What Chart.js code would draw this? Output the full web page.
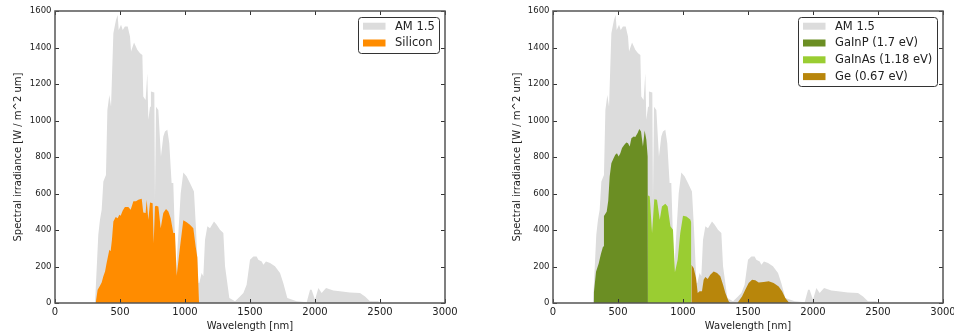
<!DOCTYPE html>
<html><head><meta charset="utf-8">
<script src="https://cdn.jsdelivr.net/npm/chart.js@4.4.0/dist/chart.umd.min.js"></script>
<style>
html,body{margin:0;padding:0;background:#fff;width:954px;height:334px;overflow:hidden}
.box{position:absolute;top:0;height:334px}
#b1{left:0;width:477px}
#b2{left:477px;width:477px}
</style></head><body>
<div class="box" id="b1"><canvas id="c1"></canvas></div>
<div class="box" id="b2"><canvas id="c2"></canvas></div>
<script>
// ---- data ----
const X_TICKS = [0, 500, 1000, 1500, 2000, 2500, 3000];
const Y_TICKS = [0, 200, 400, 600, 800, 1000, 1200, 1400, 1600];

const AM_NM  = [300,308,333,346,359,372,392,403,418,431,449,469,482,490,508,521,538,559,577,585,608,633,654,672,679,697,710,718,731,738,764,769,777,795,815,833,846,864,879,897,910,931,949,967,987,1013,1038,1069,1085,1103,1110,1128,1141,1154,1172,1192,1223,1244,1269,1295,1308,1341,1385,1423,1449,1474,1500,1526,1551,1564,1590,1603,1623,1654,1692,1731,1756,1787,1859,1936,1962,1974,2000,2026,2051,2085,2141,2192,2269,2346,2385,2423,2487,2500];
const AM_VAL = [0,0,374,456,511,666,702,1058,1140,1076,1478,1551,1578,1496,1524,1496,1515,1515,1460,1378,1427,1387,1369,1359,1131,1113,1259,1004,1076,1159,1153,566,1076,1058,803,912,940,949,876,657,657,164,383,602,715,693,657,611,401,109,109,164,146,347,420,410,447,429,401,383,201,27,9,36,55,100,237,255,255,237,228,210,228,219,201,164,109,27,9,4,73,73,18,82,55,82,69,64,58,55,36,9,9,0];

const SI_NM  = [313,328,346,359,372,385,397,418,428,438,449,467,482,495,505,521,538,564,582,603,623,641,667,679,697,705,718,731,751,759,769,777,795,813,833,854,872,890,910,923,936,962,987,1013,1038,1064,1082,1095,1108];
const SI_VAL = [0,73,95,113,146,173,219,292,283,347,447,471,465,484,478,507,526,526,511,557,557,566,571,496,493,566,456,551,547,328,529,533,529,410,493,515,502,465,383,383,150,310,453,442,429,410,310,250,0];

const GAINP_NM  = [308,315,331,351,369,385,392,413,425,436,449,467,479,492,505,518,531,549,564,577,590,603,621,633,651,664,677,692,705,718,728,730];
const GAINP_VAL = [0,60,171,215,270,310,477,500,560,693,766,794,812,821,803,821,849,867,880,876,858,903,912,909,931,953,940,858,945,894,803,0];

const GAINAS_NM  = [730,730,744,762,779,800,821,838,864,882,903,923,938,959,979,1000,1026,1056,1064,1064];
const GAINAS_VAL = [0,590,584,383,569,566,456,529,544,529,420,401,168,237,383,478,474,458,440,0];

const GE_NM  = [1064,1064,1082,1100,1113,1128,1146,1159,1172,1190,1210,1236,1262,1287,1308,1326,1351,1364,1420,1428,1454,1479,1505,1531,1556,1582,1621,1659,1697,1736,1762,1787,1813,1838];
const GE_VAL = [0,210,192,137,55,64,64,128,142,131,155,173,164,146,100,55,9,0,0,9,36,73,109,128,124,113,115,119,109,91,64,27,4,0];

// ---- rendering ----
const FONT = "'DejaVu Sans', sans-serif";
const COL = {am: '#dcdcdc', si: '#ff8c00', gainp: '#6b8e23', gainas: '#9acd32', ge: '#b8860b'};

function pts(xs, ys) { return xs.map((x, i) => ({x: x, y: ys[i]})); }
function area(label, xs, ys, color) {
  return {label, data: pts(xs, ys), backgroundColor: color, borderColor: 'rgba(0,0,0,0)',
          borderWidth: 0, pointRadius: 0, pointHoverRadius: 0, fill: 'origin', tension: 0};
}

const mpl = {
  id: 'mpl',
  afterDraw(chart, args, opts) {
    const ctx = chart.ctx, a = chart.chartArea;
    const xs = chart.scales.x, ys = chart.scales.y;
    ctx.save();
    ctx.strokeStyle = '#333'; ctx.lineWidth = 1;
    ctx.beginPath();
    xs.ticks.forEach(t => {
      const p = Math.round(xs.getPixelForValue(t.value)) + 0.5;
      ctx.moveTo(p, a.bottom); ctx.lineTo(p, a.bottom - 4);
      ctx.moveTo(p, a.top); ctx.lineTo(p, a.top + 4);
    });
    ys.ticks.forEach(t => {
      const p = Math.round(ys.getPixelForValue(t.value)) + 0.5;
      ctx.moveTo(a.left, p); ctx.lineTo(a.left + 4, p);
      ctx.moveTo(a.right, p); ctx.lineTo(a.right - 4, p);
    });
    ctx.stroke();
    ctx.strokeStyle = '#555'; ctx.lineWidth = 1.5;
    ctx.strokeRect(a.left, a.top, a.right - a.left, a.bottom - a.top);

    // legend (matplotlib style, inside upper right)
    const items = opts.items || [];
    ctx.font = '11.5px ' + FONT;
    const tw = Math.max.apply(null, items.map(i => ctx.measureText(i.label).width));
    const w = Math.round(36.5 + tw + 5);
    const rowH = 16.8;
    const h = Math.round(items.length * rowH + 2);
    const bx = Math.round(a.right - 6 - w) + 0.5, by = Math.round(a.top + 6) + 0.5;
    ctx.beginPath();
    ctx.roundRect(bx, by, w, h, 3);
    ctx.fillStyle = '#fff'; ctx.fill();
    ctx.strokeStyle = '#333'; ctx.lineWidth = 1; ctx.stroke();
    items.forEach((it, i) => {
      const cy = by + 8.7 + i * rowH;
      ctx.fillStyle = it.color;
      ctx.fillRect(bx + 4.5, cy - 3.5, 22.5, 7);
      ctx.fillStyle = '#222'; ctx.textBaseline = 'middle'; ctx.textAlign = 'left';
      ctx.fillText(it.label, bx + 36.5, cy + 0.5);
    });
    ctx.restore();
  }
};

function makeChart(id, datasets, legendItems, padLeft, padRight, yWidth) {
  return new Chart(document.getElementById(id), {
    type: 'line',
    data: {datasets},
    plugins: [mpl],
    options: {
      responsive: true, maintainAspectRatio: false, animation: false, events: [],
      devicePixelRatio: 1,
      layout: {padding: {left: padLeft, right: padRight, top: 11, bottom: 0}},
      plugins: {legend: {display: false}, tooltip: {enabled: false}, mpl: {items: legendItems}},
      scales: {
        x: {
          type: 'linear', min: 0, max: 3000,
          afterBuildTicks: s => { s.ticks = X_TICKS.map(v => ({value: v})); },
          ticks: {padding: 3, color: '#222', font: {family: FONT, size: 10}, maxRotation: 0, autoSkip: false,
                  callback: v => String(v)},
          grid: {display: false, drawTicks: false}, border: {display: false},
          title: {display: true, text: 'Wavelength [nm]', color: '#222', font: {family: FONT, size: 10}, padding: {top: 0, bottom: 2}},
          afterFit: s => { s.height = 31; s.paddingLeft = 0; s.paddingRight = 0; }
        },
        y: {
          type: 'linear', min: 0, max: 1600,
          afterBuildTicks: s => { s.ticks = Y_TICKS.map(v => ({value: v})); },
          ticks: {padding: 3.5, color: '#222', font: {family: FONT, size: 8.5}, autoSkip: false,
                  callback: v => String(v)},
          grid: {display: false, drawTicks: false}, border: {display: false},
          title: {display: true, text: 'Spectral irradiance [W / m^2 um]', color: '#222', font: {family: FONT, size: 10}, padding: {top: 12, bottom: 0}},
          afterFit: s => { s.width = yWidth; s.paddingTop = 0; s.paddingBottom = 0; }
        }
      }
    }
  });
}

// datasets listed front-to-back (first dataset is drawn on top)
makeChart('c1', [
  area('Silicon', SI_NM, SI_VAL, COL.si),
  area('AM 1.5', AM_NM, AM_VAL, COL.am)
], [
  {label: 'AM 1.5', color: COL.am},
  {label: 'Silicon', color: COL.si}
], 0, 32, 55);

makeChart('c2', [
  area('GaInP (1.7 eV)', GAINP_NM, GAINP_VAL, COL.gainp),
  area('GaInAs (1.18 eV)', GAINAS_NM, GAINAS_VAL, COL.gainas),
  area('Ge (0.67 eV)', GE_NM, GE_VAL, COL.ge),
  area('AM 1.5', AM_NM, AM_VAL, COL.am)
], [
  {label: 'AM 1.5', color: COL.am},
  {label: 'GaInP (1.7 eV)', color: COL.gainp},
  {label: 'GaInAs (1.18 eV)', color: COL.gainas},
  {label: 'Ge (0.67 eV)', color: COL.ge}
], 22, 11, 54);
</script>
</body></html>
